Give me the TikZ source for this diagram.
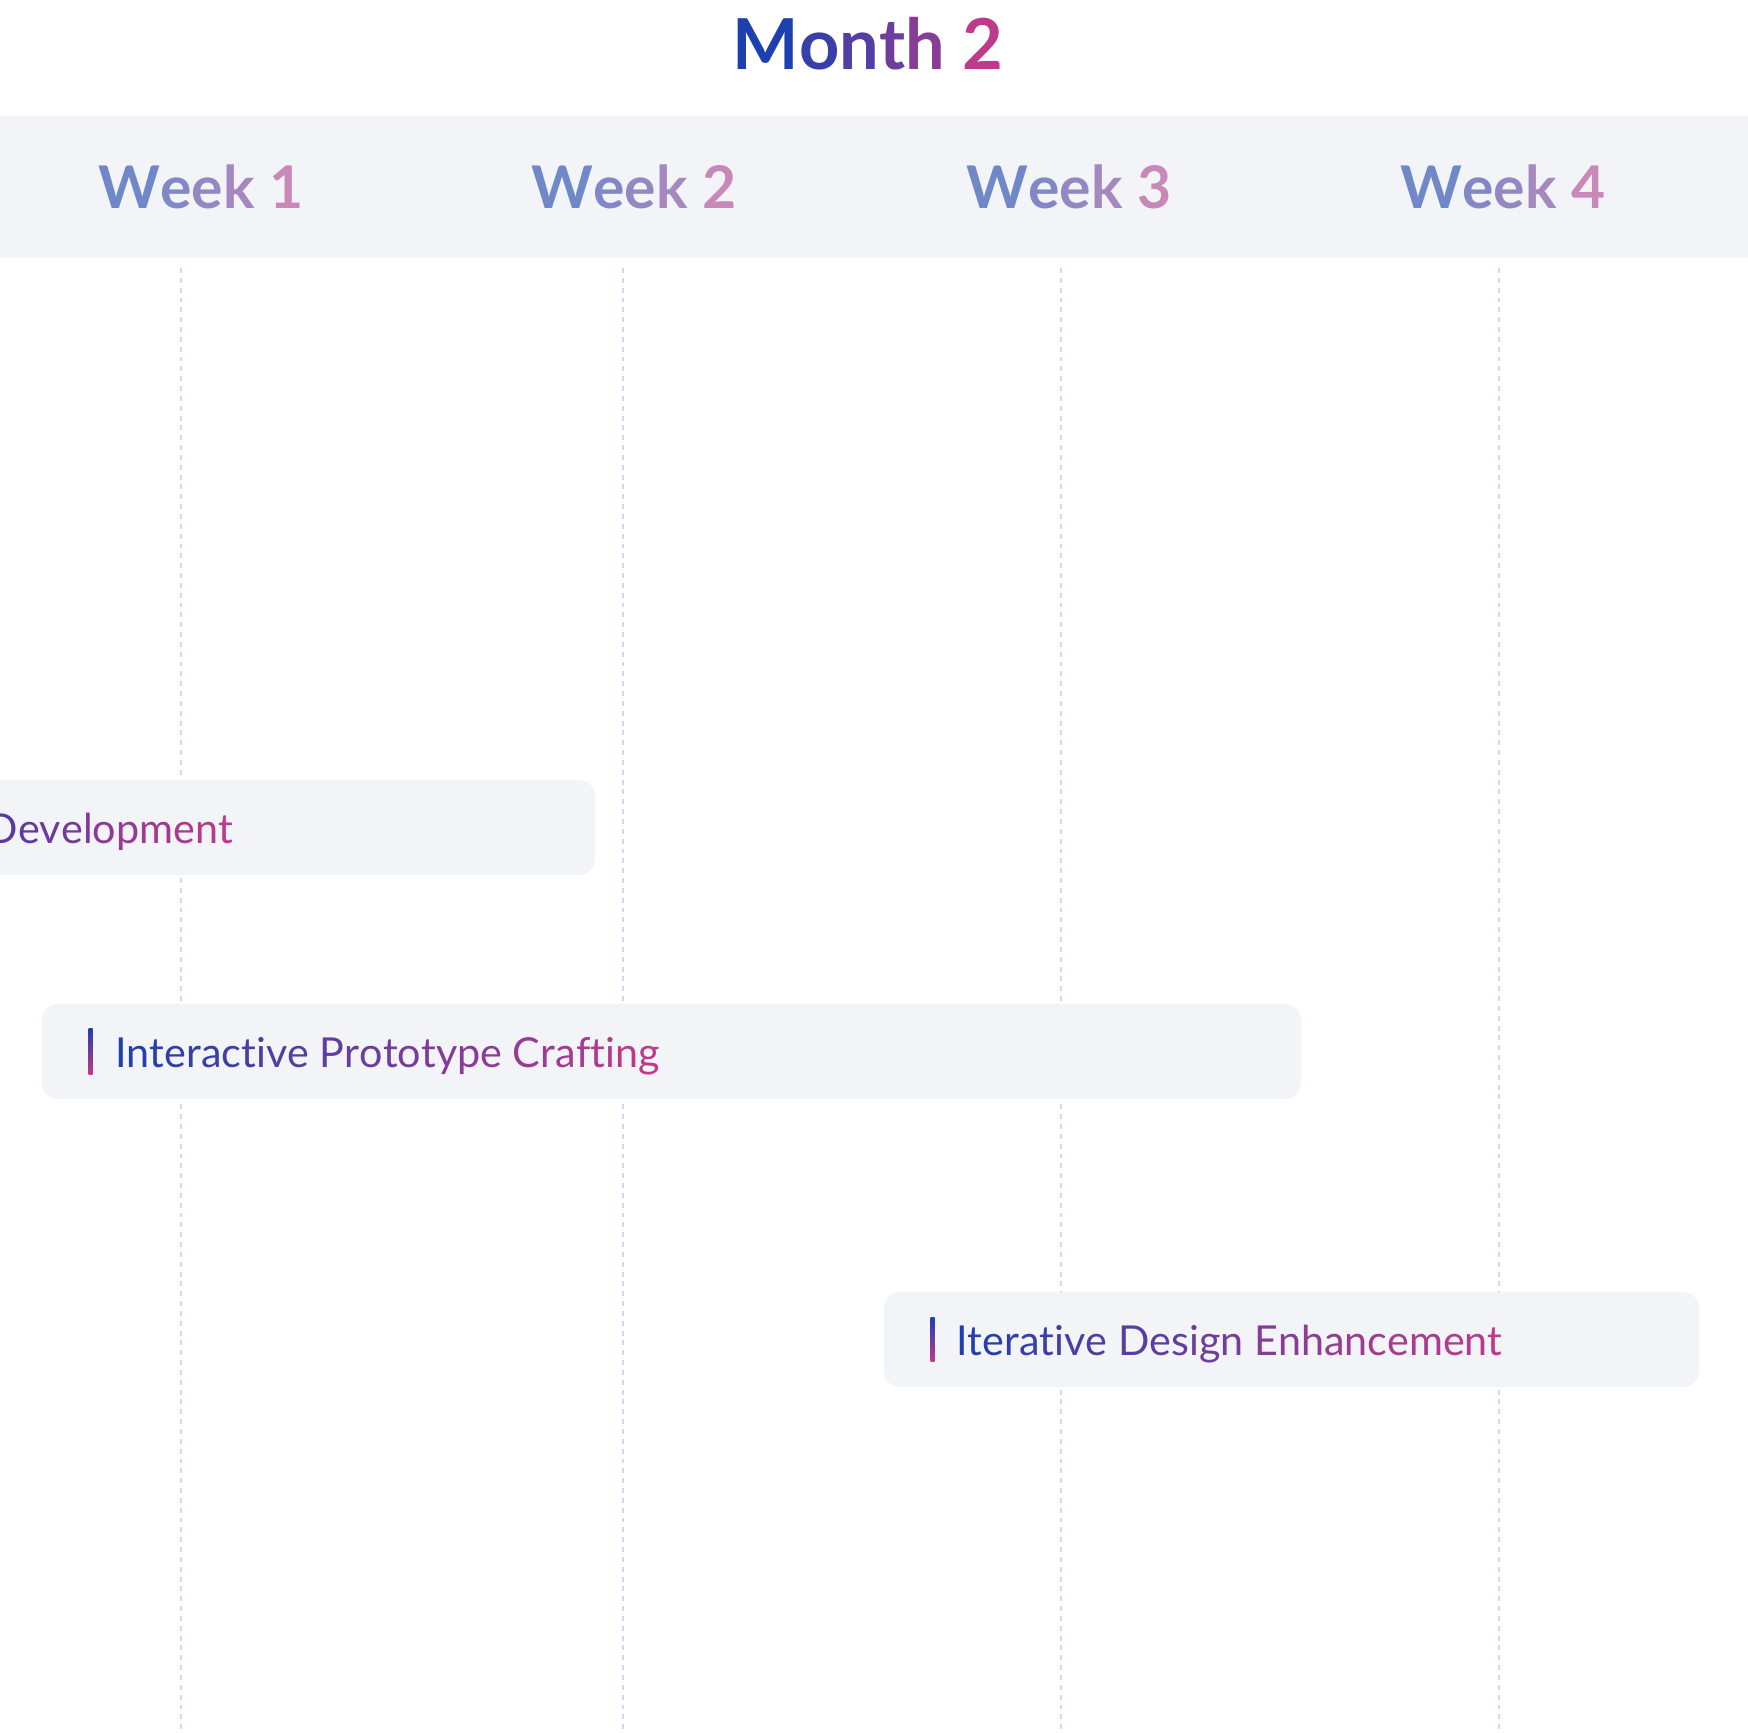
\documentclass[tikz,border=0pt]{standalone}
\usepackage{fontspec}
\setmainfont{Lato}
\usepackage{xcolor}
\usepackage{tikz}
\usetikzlibrary{positioning,fit}

\definecolor{gblue}{HTML}{1E40AF}
\definecolor{gpink}{HTML}{BE3A8A}
\definecolor{gpurple}{HTML}{5A3AA0}
\definecolor{lblue}{HTML}{7088C8}
\definecolor{lpink}{HTML}{C888B8}
\definecolor{bandgray}{HTML}{F3F4F8}
\definecolor{gridblue}{HTML}{CFD9F2}

\def\px{0.02cm}

% per-letter colour ramp: start colour, end colour, text
\ExplSyntaxOn
\int_new:N \l_gt_n_int
\int_new:N \l_gt_i_int
\cs_new_protected:Npn \gt_char:nnn #1#2#3
  {
    \int_incr:N \l_gt_i_int
    \use:e
      {
        \exp_not:N \textcolor
          { #2 ! \int_eval:n { 100 * ( \l_gt_i_int - 1 ) / \int_max:nn { 1 } { \l_gt_n_int - 1 } } ! #1 }
      }
      { \relax #3 }
  }
\NewDocumentCommand \gradtext { m m m }
  {
    \int_set:Nn \l_gt_n_int { \str_count:n {#3} }
    \int_zero:N \l_gt_i_int
    \str_map_inline:nn {#3} { \gt_char:nnn {#1} {#2} {##1} }
  }
\ExplSyntaxOff

\begin{document}
\begin{tikzpicture}[x=0.02cm, y=-0.02cm,
		band/.style={fill=bandgray, draw=none, inner sep=0pt},
		ttl/.style={font=\fontsize{40}{46}\selectfont\bfseries, anchor=base, inner sep=0pt},
		weeklbl/.style={font=\fontsize{33.5}{38}\selectfont\bfseries, anchor=base, inner sep=0pt},
		gridln/.style={draw=gridblue, line width=1.2pt, dash pattern=on 2.8pt off 2.8pt},
		taskbar/.style={fill=bandgray, draw=none, rounded corners=9pt, inner sep=0pt},
		tasklbl/.style={font=\fontsize{23.5}{28}\selectfont, anchor=base west, inner sep=0pt},
		accent/.style={rectangle, draw=none, inner sep=0pt, minimum width=4*\px,
				top color=gblue, bottom color=gpink},
	]
	\useasboundingbox (0,0) rectangle (1748,1732);
	\fill[white] (0,0) rectangle (1748,1732);
	\clip (0,0) rectangle (1748,1732);

	\node[ttl] (title) at (868,69) {\gradtext{gblue}{gpink}{Month 2}};

	\node[band, fit={(0,116) (1748,258)}] (hdr) {};
	\node[weeklbl] (w1) at (201,208) {\gradtext{lblue}{lpink}{Week 1}};
	\node[weeklbl] (w2) at (634,208) {\gradtext{lblue}{lpink}{Week 2}};
	\node[weeklbl] (w3) at (1069,208) {\gradtext{lblue}{lpink}{Week 3}};
	\node[weeklbl] (w4) at (1503,208) {\gradtext{lblue}{lpink}{Week 4}};

	\draw[gridln] (181,268) -- (181,1732);
	\draw[gridln] (623,268) -- (623,1732);
	\draw[gridln] (1061,268) -- (1061,1732);
	\draw[gridln] (1499,268) -- (1499,1732);

	\node[taskbar, fit={(-60,780) (595,875)}] (t1) {};
	\node[tasklbl, anchor=base east, xshift=-362*\px, yshift=-16*\px] (l1) at (t1.east)
	{\gradtext{gpurple}{gpink}{Development}};

	\node[taskbar, fit={(42,1004) (1301,1099)}] (t2) {};
	\node[accent, minimum height=46*\px, xshift=49*\px] (a2) at (t2.west) {};
	\node[tasklbl, xshift=73*\px, yshift=-16*\px] (l2) at (t2.west)
	{\gradtext{gblue}{gpink}{Interactive Prototype Crafting}};

	\node[taskbar, fit={(884,1292) (1699,1387)}] (t3) {};
	\node[accent, minimum height=44*\px, xshift=49*\px] (a3) at (t3.west) {};
	\node[tasklbl, xshift=72*\px, yshift=-16*\px] (l3) at (t3.west)
	{\gradtext{gblue}{gpink}{Iterative Design Enhancement}};
\end{tikzpicture}
\end{document}
